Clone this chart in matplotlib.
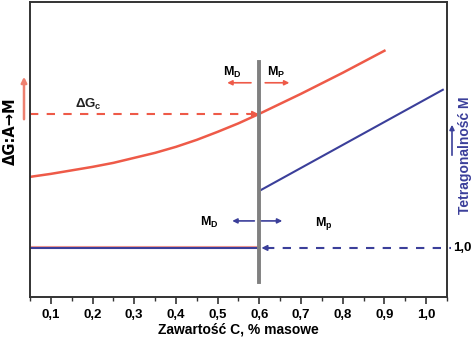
import numpy as np
import matplotlib
matplotlib.use("Agg")
from matplotlib import pyplot as plt

plt.rcParams['font.family'] = ['Liberation Sans', 'DejaVu Sans']
plt.rcParams['font.weight'] = 'bold'
plt.rcParams['axes.labelweight'] = 'bold'
plt.rcParams['mathtext.default'] = 'regular'

# carbon content, wt %
x_ticks = [0.1, 0.2, 0.3, 0.4, 0.5, 0.6, 0.7, 0.8, 0.9, 1.0]
x_labels = ['0,1', '0,2', '0,3', '0,4', '0,5', '0,6', '0,7', '0,8', '0,9', '1,0']

# driving force A -> M (arbitrary units)
dg_x = [0.05, 0.1, 0.15, 0.2, 0.25, 0.3, 0.35, 0.4, 0.45, 0.5, 0.55, 0.6,
        0.65, 0.7, 0.75, 0.8, 0.85, 0.9]
dg_y = [120, 123, 126.5, 130, 134, 139, 144, 150, 157, 165, 173.5, 183,
        193, 203, 213.5, 224, 235, 246]
dg_c = 183  # critical driving force

# tetragonality of martensite (arbitrary units)
tet_x = [0.6, 1.04]
tet_y = [106, 207]
tet_one = 49  # c/a = 1.0

c_crit = 0.6

red = '#ee5a48'
blue = '#3b3f9a'
grey = '#808080'

fig = plt.figure(figsize=(4.74, 3.40), dpi=100)
ax = fig.add_axes([0.0633, 0.1265, 0.8797, 0.8685])
ax.set_xlim(0.05, 1.05)
ax.set_ylim(0, 295)

ax.plot(dg_x, dg_y, color=red, lw=1.8)
ax.plot(tet_x, tet_y, color=blue, lw=1.5)

# c/a = 1 below the critical content, dashed above it
ax.plot([0.05, c_crit], [tet_one + 1.8] * 2, color='#f29a90', lw=0.8)
ax.plot([0.05, c_crit], [tet_one] * 2, color=blue, lw=1.5)
ax.plot([c_crit + 0.015, 1.06], [tet_one] * 2, color=blue, lw=1.5,
        ls=(0, (4, 4)), clip_on=False)
ax.annotate('', xy=(c_crit + 0.005, tet_one), xytext=(c_crit + 0.03, tet_one),
            arrowprops=dict(arrowstyle='-|>', color=blue, lw=1.2,
                            mutation_scale=8, shrinkA=0, shrinkB=0))

# critical driving force
ax.plot([0.05, c_crit - 0.02], [dg_c] * 2, color=red, lw=1.5, ls=(0, (4, 4)))
ax.annotate('', xy=(c_crit - 0.003, dg_c), xytext=(c_crit - 0.03, dg_c),
            arrowprops=dict(arrowstyle='-|>', color=red, lw=1.2,
                            mutation_scale=8, shrinkA=0, shrinkB=0))
ax.text(0.19, 192, 'ΔG$_{c}$', fontsize=9.5, ha='center',
        va='center', color='#222222')

# critical carbon content
ax.plot([c_crit, c_crit], [15, 235], color=grey, lw=2.8)

# M_D / M_P, upper pair
ax.text(c_crit - 0.065, 224, 'M$_{D}$', fontsize=9, ha='center', va='center')
ax.text(c_crit + 0.04, 224, 'M$_{P}$', fontsize=9, ha='center', va='center')
ax.annotate('', xy=(c_crit - 0.077, 214), xytext=(c_crit - 0.02, 214),
            arrowprops=dict(arrowstyle='-|>', color=red, lw=1.2,
                            mutation_scale=7, shrinkA=0, shrinkB=0))
ax.annotate('', xy=(c_crit + 0.072, 214), xytext=(c_crit + 0.014, 214),
            arrowprops=dict(arrowstyle='-|>', color=red, lw=1.2,
                            mutation_scale=7, shrinkA=0, shrinkB=0))

# M_D / M_P, lower pair
ax.text(c_crit - 0.12, 74, 'M$_{D}$', fontsize=9, ha='center', va='center')
ax.text(c_crit + 0.155, 73, 'M$_{p}$', fontsize=9, ha='center', va='center')
ax.annotate('', xy=(c_crit - 0.065, 76), xytext=(c_crit - 0.012, 76),
            arrowprops=dict(arrowstyle='-|>', color=blue, lw=1.2,
                            mutation_scale=7, shrinkA=0, shrinkB=0))
ax.annotate('', xy=(c_crit + 0.055, 76), xytext=(c_crit + 0.005, 76),
            arrowprops=dict(arrowstyle='-|>', color=blue, lw=1.2,
                            mutation_scale=7, shrinkA=0, shrinkB=0))

for s in ax.spines.values():
    s.set_color('#333333')
    s.set_linewidth(1.4)

ax.set_xticks(x_ticks)
ax.set_xticklabels(x_labels, fontsize=9.5, fontweight='bold')
ax.set_xticks(np.arange(0.05, 1.06, 0.1), minor=True)
ax.tick_params(axis='x', which='major', direction='out', length=5, width=1.2,
               color='#333333', pad=4)
ax.tick_params(axis='x', which='minor', direction='out', length=3, width=1.0,
               color='#333333')
ax.set_yticks([])
ax.set_xlabel('Zawartość C, % masowe', fontsize=10, fontweight='bold',
              labelpad=1)

# right-hand scale: c/a = 1.0
ax.text(1.065, tet_one, '1,0', fontsize=9.5, fontweight='bold', ha='left',
        va='center', clip_on=False)

# axis titles with direction arrows
fig.text(0.022, (340 - 131) / 340, 'ΔG:A→M', rotation=90,
         family=['DejaVu Sans'], fontsize=10.5, fontweight='bold',
         ha='center', va='center')
fig.add_artist(matplotlib.patches.FancyArrowPatch(
    (24 / 474, (340 - 122) / 340), (24 / 474, (340 - 74) / 340),
    transform=fig.transFigure, arrowstyle='-|>', mutation_scale=8,
    color='#ee8070', lw=1.8))

fig.text(0.981, (340 - 155) / 340, 'Tetragonalność M', rotation=90,
         fontsize=10, fontweight='bold', ha='center', va='center', color=blue)
fig.add_artist(matplotlib.patches.FancyArrowPatch(
    (452 / 474, (340 - 158) / 340), (452 / 474, (340 - 122) / 340),
    transform=fig.transFigure, arrowstyle='-|>', mutation_scale=7,
    color=blue, lw=1.2))

fig.savefig('out.png', dpi=100)
